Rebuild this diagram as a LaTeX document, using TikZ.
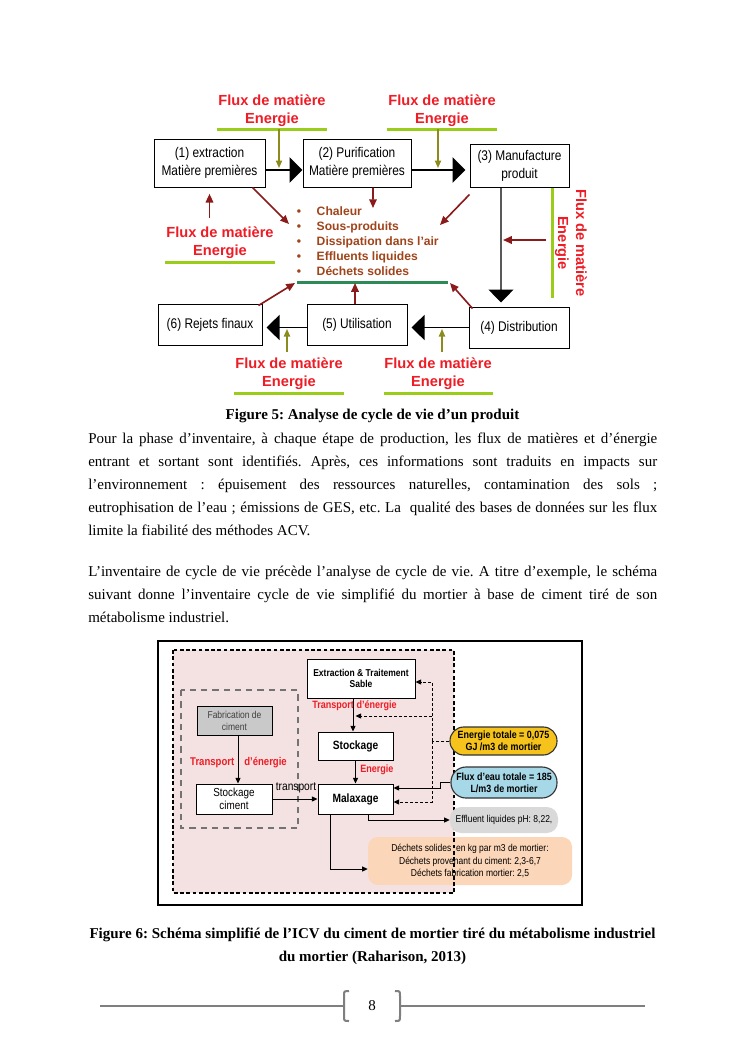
\documentclass[tikz,border=0pt]{standalone}
\usepackage{fontspec}
\setmainfont{Liberation Serif}
\newfontfamily\arialf{Liberation Sans}
\newfontfamily\arialnf[FakeStretch=0.85]{Liberation Sans}
\usetikzlibrary{arrows.meta}
\frenchspacing
\definecolor{labred}{HTML}{EE1C25}
\definecolor{olivearr}{HTML}{8C8C1E}
\definecolor{darkred}{HTML}{8B1A1A}
\definecolor{limeg}{HTML}{9ACD1A}
\definecolor{tealg}{HTML}{2E8B57}
\definecolor{brownt}{HTML}{A0441A}
\definecolor{pinkbg}{HTML}{F4E2E2}
\definecolor{engy}{HTML}{F5C31C}
\definecolor{eaub}{HTML}{A7D8E8}
\definecolor{effl}{HTML}{D9D9D9}
\definecolor{dechc}{HTML}{FBD6B8}
\definecolor{fabg}{HTML}{C9C9C9}
\definecolor{footg}{HTML}{7F7F7F}
\begin{document}
\frenchspacing
\begin{tikzpicture}[x=0.8pt,y=-0.8pt,
  sz/.style 2 args={minimum width=#1*0.8pt, minimum height=#2*0.8pt},
  bx/.style={draw, line width=0.8pt, fill=white, inner sep=0pt, align=center, font=\arialnf\fontsize{11.2}{14.4}\selectfont},
  redlab/.style={text=labred, align=center, inner sep=0pt, font=\arialf\bfseries\fontsize{11.7}{14.4}\selectfont},
  gline/.style={draw=limeg, line width=2.4pt},
  flowthick/.style={line width=2pt, -{Triangle[length=10.4pt,width=20pt]}},
  flowthin/.style={line width=1pt, -{Triangle[length=10.4pt,width=20pt]}},
  oarr/.style={draw=olivearr, line width=1.1pt, -{Triangle[length=6pt,width=5pt]}},
  rarr/.style={draw=darkred, line width=1.3pt, -{Triangle[length=7pt,width=6pt]}},
  bul/.style={text=brownt, inner sep=0pt, anchor=base west, font=\arialf\bfseries\fontsize{9.7}{12}\selectfont},
  body/.style={inner sep=0pt, anchor=base west, font=\fontsize{12}{14}\selectfont\frenchspacing},
  capt/.style={inner sep=0pt, anchor=base, font=\bfseries\fontsize{12}{14}\selectfont\frenchspacing},
  sbox/.style={draw, line width=0.8pt, fill=white, inner sep=0pt, align=center},
  c6/.style={line width=0.8pt, -{Triangle[length=4.5pt,width=4pt]}},
  d6/.style={line width=0.8pt, dash pattern=on 2.5pt off 1.5pt},
  d6a/.style={d6, -{Triangle[length=4.5pt,width=4pt]}},
  pill/.style={draw=black!80, line width=0.9pt, inner sep=0pt, align=center, font=\arialnf\bfseries\fontsize{8.4}{9.6}\selectfont},
  red6/.style={text=labred, inner sep=0pt, font=\arialnf\bfseries\fontsize{8.5}{10}\selectfont}
]
\path[fill=white] (0,0) rectangle (745,1053);
\path[use as bounding box] (0,0) rectangle (745,1053);

% ================= Figure 5 =================
\node[redlab] (l1) at (272,110.5) {Flux de matière\\Energie};
\node[redlab] (l2) at (442,110.5) {Flux de matière\\Energie};
\node[redlab] (l3) at (220,242.5) {Flux de matière\\Energie};
\node[redlab, rotate=-90] (l4) at (571,243) {Flux de matière\\Energie};
\node[redlab] (l5) at (289,373.5) {Flux de matière\\Energie};
\node[redlab] (l6) at (438,373.5) {Flux de matière\\Energie};

\draw[gline] (217,129) -- (327,129);
\draw[gline] (387,129) -- (497,129);
\draw[gline] (165,262) -- (275,262);
\draw[gline] (552,188) -- (552,298);
\draw[gline] (234,393) -- (344,393);
\draw[gline] (384,393) -- (493,393);

\node[bx, sz={111}{48}] (b1) at (209.5,163) {(1) extraction\\Matière premières};
\node[bx, sz={108}{48}] (b2) at (357,163) {(2) Purification\\Matière premières};
\node[bx, sz={99}{43}] (b3) at (519.5,165.5) {(3) Manufacture\\produit};
\node[bx, sz={100}{41}] (b4) at (519,327.5) {(4) Distribution};
\node[bx, sz={100}{41}] (b5) at (357,324.5) {(5) Utilisation};
\node[bx, sz={104}{41}] (b6) at (210,324.5) {(6) Rejets finaux};

\coordinate (m1) at (0,170);
\draw[flowthick] (b1.east |- m1) -- (b2.west |- m1);
\draw[flowthick, shorten >=3.2pt] (b2.east |- m1) -- (b3.west |- m1);
\draw[flowthin] ([xshift=-14.8pt]b3.south) -- ([xshift=-14.4pt,yshift=3.2pt]b4.north);
\draw[flowthin, shorten >=3.2pt] (b4.west) -- (b5.east |- b4.west);
\draw[flowthin, shorten >=3.2pt] (b5.west |- b4.west) -- (b6.east |- b4.west);

% olive input arrows
\coordinate (o1a) at (279,129); \coordinate (o1b) at (279,168);
\coordinate (o2a) at (438,129); \coordinate (o2b) at (438,168);
\coordinate (o3a) at (287,352); \coordinate (o3b) at (287,329);
\coordinate (o4a) at (442,352); \coordinate (o4b) at (442,329);
\draw[oarr] (o1a) -- (o1b);
\draw[oarr] (o2a) -- (o2b);
\draw[oarr] (o3a) -- (o3b);
\draw[oarr] (o4a) -- (o4b);

% emissions list
\node[bul] (i1) at (296.5,215) {\makebox[16pt][l]{\textbullet}Chaleur};
\node[bul] (i2) at (296.5,230) {\makebox[16pt][l]{\textbullet}Sous-produits};
\node[bul] (i3) at (296.5,245) {\makebox[16pt][l]{\textbullet}Dissipation dans l’air};
\node[bul] (i4) at (296.5,260) {\makebox[16pt][l]{\textbullet}Effluents liquides};
\node[bul] (i5) at (296.5,275) {\makebox[16pt][l]{\textbullet}Déchets solides};

\coordinate (tealL) at (297,282); \coordinate (tealR) at (448,282);
\draw[draw=tealg, line width=2.4pt] (tealL) -- (tealR);

% dark red arrows
\coordinate (t1) at (289,224);
\coordinate (t2) at (373,208);
\coordinate (t3) at (440,225);
\coordinate (r4s) at (546,240); \coordinate (r4e) at (503,240);
\coordinate (t6) at (295,283);
\coordinate (t5) at (355,283);
\coordinate (t4) at (450,283);
\draw[rarr] ([xshift=-10.4pt]b1.south east) -- (t1);
\draw[rarr] ([xshift=12.8pt]b2.south) -- (t2);
\draw[rarr] ([yshift=-5.6pt]b3.south west) -- (t3);
\draw[rarr] ([yshift=7pt]b1.south |- l3.north) -- ([yshift=-5pt]b1.south);
\draw[rarr] (r4s) -- (r4e);
\draw[rarr] ([xshift=-3.2pt,yshift=-1.6pt]b6.north east) -- (t6);
\draw[rarr] (b5.north -| t5) -- (t5);
\draw[rarr] ([xshift=3.2pt,yshift=-1.6pt]b4.north west) -- (t4);

% ================= Text =================
\node[capt] (cap5) at (372.5,419) {Figure 5: Analyse de cycle de vie d’un produit};
\node[body] (p1) at (88,443) {\makebox[455.2pt][s]{Pour la phase d’inventaire, à chaque étape de production, les flux de matières et d’énergie}};
\node[body] (p2) at (88,466) {\makebox[455.2pt][s]{entrant et sortant sont identifiés. Après, ces informations sont traduits en impacts sur}};
\node[body] (p3) at (88,489) {\makebox[455.2pt][s]{l’environnement : épuisement des ressources naturelles, contamination des sols ;}};
\node[body] (p4) at (88,512) {\makebox[455.2pt][s]{eutrophisation de l’eau ; émissions de GES, etc. La~ qualité des bases de données sur les flux}};
\node[body] (p5) at (88,535) {limite la fiabilité des méthodes ACV.};
\node[body] (q1) at (88,576) {\makebox[455.2pt][s]{L’inventaire de cycle de vie précède l’analyse de cycle de vie. A titre d’exemple, le schéma}};
\node[body] (q2) at (88,599) {\makebox[455.2pt][s]{suivant donne l’inventaire cycle de vie simplifié du mortier à base de ciment tiré de son}};
\node[body] (q3) at (88,622) {métabolisme industriel.};

% ================= Figure 6 =================
\draw[line width=1.2pt] (158,641) rectangle (582,905);
\fill[pinkbg] (173,650) rectangle (454,893);
\draw[black!55, line width=2pt, dash pattern=on 5pt off 4pt] (181,690) rectangle (298,828);

\node[sbox, fill=fabg, text=black!75, sz={75}{29}, font=\arialnf\fontsize{8}{9.6}\selectfont] (fab) at (234.5,720.5) {Fabrication de\\ciment};
\node[sbox, sz={76}{30}, font=\arialnf\fontsize{9.3}{10.4}\selectfont] (stc) at (234,799) {Stockage\\ciment};
\node[sbox, sz={108}{39}, font=\arialnf\bfseries\fontsize{8}{9.4}\selectfont] (ext) at (361,678.5) {Extraction \& Traitement\\Sable};
\node[sbox, sz={75}{28}, font=\arialnf\bfseries\fontsize{9.6}{11}\selectfont] (sto) at (355.5,746) {Stockage};
\node[sbox, sz={75}{30}, font=\arialnf\bfseries\fontsize{9.6}{11}\selectfont] (mal) at (355.5,799) {Malaxage};

\node[red6, font=\arialnf\bfseries\fontsize{9}{10}\selectfont] (tr1) at (238.5,763) {Transport\hspace{8pt}d’énergie};
\node[red6] (tr2) at (354.5,706) {Transport d’énergie};
\node[red6, anchor=west] (en6) at (360,770) {Energie};
\node[inner sep=0pt, font=\arialnf\fontsize{9.6}{11}\selectfont] (trl) at (296,788) {transport};

\draw[c6] (fab.south -| 238,0) -- (stc.north -| 238,0);
\draw[c6] (stc.east) -- (mal.west);
\draw[c6] (ext.south -| 353,0) -- (sto.north -| 353,0);
\draw[c6] (sto.south) -- (mal.north);

\node[fill=dechc, rounded corners=8pt, sz={204}{48}, inner sep=0pt, align=center, font=\arialnf\fontsize{8}{10}\selectfont] (dch) at (470,861) {Déchets solides~ en kg par m3 de mortier:\\Déchets provenant du ciment: 2,3-6,7\\Déchets fabrication mortier: 2,5};

\draw[line width=1.1pt, dash pattern=on 3pt off 2pt] (173,650) rectangle (454,893);

\node[pill, fill=engy, rounded corners=11pt, sz={107}{28}] (en) at (503.5,741) {Energie totale = 0,075\\GJ /m3 de mortier};
\node[pill, fill=eaub, rounded corners=12pt, sz={106}{31}] (eau) at (504,782.5) {Flux d’eau totale = 185\\L/m3 de mortier};
\node[fill=effl, rounded corners=9pt, sz={108}{26}, inner sep=0pt, font=\arialnf\fontsize{8}{10}\selectfont] (eff) at (504,820) {Effluent liquides pH: 8,22,};

\coordinate (j) at (432,741);
\coordinate (jt) at (432,682);
\coordinate (jm) at (432,716);
\coordinate (jb) at (432,802);
\coordinate (wt) at (440,782.5);
\coordinate (wb) at (440,788);
\draw[d6] (en.west) -- (j);
\draw[d6a] (j) -- (jt) -- (ext.east |- jt);
\draw[d6a] (jm) -- (sto.north |- jm);
\draw[d6a] (j) -- (jb) -- (mal.east |- jb);
\draw[c6] (eau.west) -- (wt) -- (wb) -- (mal.east |- wb);
\draw[c6] ([xshift=10pt]mal.south) |- (eff.west);
\draw[c6] ([xshift=-20pt]mal.south) |- ([yshift=-6.4pt]dch.west);

\node[capt] (cap6a) at (372.5,938) {Figure 6: Schéma simplifié de l’ICV du ciment de mortier tiré du métabolisme industriel};
\node[capt] (cap6b) at (372.5,961) {du mortier (Raharison, 2013)};

% ================= Footer =================
\node[inner sep=0pt, font=\fontsize{12}{14}\selectfont] (pg) at (372,1006) {8};
\coordinate (fl1) at (100,1006); \coordinate (fl2) at (344,1006);
\coordinate (fr1) at (400,1006); \coordinate (fr2) at (645,1006);
\draw[footg, line width=1.6pt] (fl1) -- (fl2);
\draw[footg, line width=1.6pt] (fr1) -- (fr2);
\draw[footg, line width=1.6pt] (349,991) .. controls (344,991) .. (344,996) -- (344,1016) .. controls (344,1021) .. (349,1021);
\draw[footg, line width=1.6pt] (395,991) .. controls (400,991) .. (400,996) -- (400,1016) .. controls (400,1021) .. (395,1021);
\end{tikzpicture}
\end{document}
